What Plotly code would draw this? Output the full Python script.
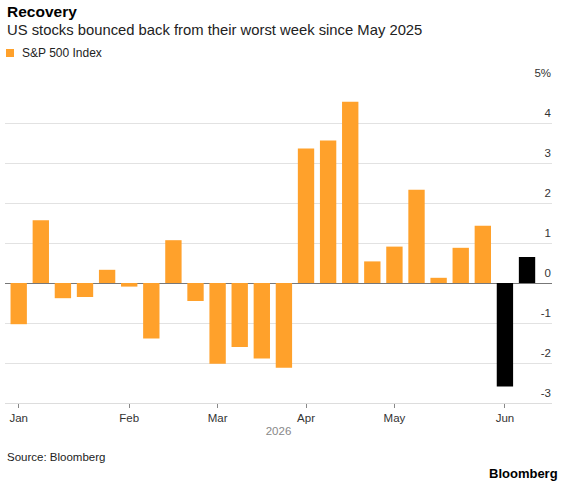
import plotly.graph_objects as go

# weekly % change of the S&P 500 (week ending Friday)
weeks = ['2026-01-02', '2026-01-09', '2026-01-16', '2026-01-23', '2026-01-30',
         '2026-02-06', '2026-02-13', '2026-02-20', '2026-02-27',
         '2026-03-06', '2026-03-13', '2026-03-20', '2026-03-27',
         '2026-04-03', '2026-04-10', '2026-04-17', '2026-04-24',
         '2026-05-01', '2026-05-08', '2026-05-15', '2026-05-22', '2026-05-29',
         '2026-06-05', '2026-06-12']
weekly_change = [-1.03, 1.57, -0.38, -0.35, 0.33,
                 -0.09, -1.39, 1.07, -0.45,
                 -2.02, -1.60, -1.89, -2.12,
                 3.36, 3.56, 4.53, 0.54,
                 0.91, 2.33, 0.13, 0.88, 1.43,
                 -2.59, 0.65]
highlighted_weeks = ['2026-06-05', '2026-06-12']

month_tick_weeks = ['2026-01-02', '2026-02-06', '2026-03-06', '2026-04-03', '2026-05-01', '2026-06-05']
month_tick_labels = ['Jan', 'Feb', 'Mar', 'Apr', 'May', 'Jun']
y_tick_values = [-3, -2, -1, 0, 1, 2, 3, 4, 5]
y_tick_labels = ['-3', '-2', '-1', '0', '1', '2', '3', '4', '5%']

ORANGE = '#FFA12B'
FONT = 'Liberation Sans'

colors = ['black' if w in highlighted_weeks else ORANGE for w in weeks]

fig = go.Figure()
fig.add_trace(go.Bar(x=weeks, y=weekly_change, marker_color=colors,
                     marker_line_width=0, name='S&P 500 Index', showlegend=False))

fig.update_layout(
    width=572, height=482,
    margin=dict(l=5, r=20, t=83, b=79),
    paper_bgcolor='white', plot_bgcolor='white',
    font=dict(family=FONT, size=12, color='#333333'),
    bargap=0.26,
    showlegend=False,
)

fig.update_xaxes(
    type='category', range=[-0.62, 24.13], automargin=False,
    tickmode='array', tickvals=month_tick_weeks, ticktext=month_tick_labels,
    ticks='outside', ticklen=4, tickcolor='#888888', tickwidth=1,
    showline=True, linecolor='#dddddd', linewidth=1,
    showgrid=False, tickfont=dict(size=11.5, color='#333333'),
    title=dict(text='2026', standoff=4, font=dict(size=11.5, color='#888888')),
)

fig.update_yaxes(
    side='right', range=[-3, 5], automargin=False,
    tickmode='array', tickvals=y_tick_values, ticktext=y_tick_labels,
    ticklabelposition='inside', ticklabelshift=-10, ticklabelstandoff=-2,
    ticklabeloverflow='allow',
    ticks='', showgrid=True, gridcolor='#e2e2e2', gridwidth=1,
    zeroline=True, zerolinecolor='#777777', zerolinewidth=1,
    tickfont=dict(size=11.5, color='#333333'),
)

# header and legend key
fig.add_annotation(text='<b>Recovery</b>', xref='paper', yref='paper', x=0, y=1.222,
                   xanchor='left', yanchor='middle', showarrow=False,
                   font=dict(size=15.5, color='black'))
fig.add_annotation(text='US stocks bounced back from their worst week since May 2025',
                   xref='paper', yref='paper', x=0, y=1.166,
                   xanchor='left', yanchor='middle', showarrow=False,
                   font=dict(size=14.8, color='#222222'))
fig.add_shape(type='rect', xref='paper', yref='paper',
              x0=1 / 547, x1=9 / 547, y0=(403 - 57) / 320, y1=(403 - 49) / 320,
              fillcolor=ORANGE, line_width=0)
fig.add_annotation(text='S&P 500 Index', xref='paper', yref='paper', x=15 / 547, y=(403 - 53) / 320,
                   xanchor='left', yanchor='middle', showarrow=False,
                   font=dict(size=12, color='#222222'))

# footer
fig.add_annotation(text='Source: Bloomberg', xref='paper', yref='paper', x=0, y=-0.169,
                   xanchor='left', yanchor='middle', showarrow=False,
                   font=dict(size=11.5, color='#222222'))
fig.add_annotation(text='<b>Bloomberg</b>', xref='paper', yref='paper', x=1.0146, y=-0.219,
                   xanchor='right', yanchor='middle', showarrow=False,
                   font=dict(size=13, color='black'))

# page body has a default 8px margin; drop it so the figure sits at the corner
fig.write_html('out.html', config={'displayModeBar': False},
               post_script="document.body.style.margin = '0';")
